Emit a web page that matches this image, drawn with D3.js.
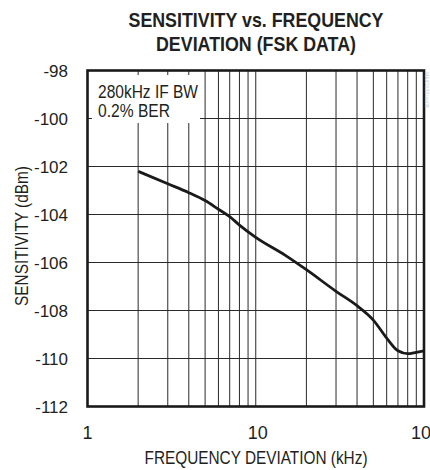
<!DOCTYPE html>
<html><head><meta charset="utf-8">
<script src="https://cdn.jsdelivr.net/npm/d3@7"></script>
<style>
html,body{margin:0;padding:0;background:#fff;}
svg{display:block;}
text{font-family:"Liberation Sans Narrow","Arial Narrow","Liberation Sans",Arial,sans-serif;fill:#231f20;}
</style></head><body>
<svg id="c" width="430" height="470"></svg>
<script>
// ---- data ----
const freqKHz = [2, 3, 4, 5, 6, 7, 8, 10, 15, 20, 30, 40, 50, 60, 70, 80, 90, 100];
const sensitivity = [-102.2, -102.72, -103.09, -103.42, -103.78, -104.09, -104.44, -104.95, -105.7, -106.3, -107.2, -107.8, -108.4, -109.15, -109.68, -109.8, -109.74, -109.68];
const yTicks = [-98, -100, -102, -104, -106, -108, -110, -112];
const xTickLabels = [1, 10, 100];
const xGrid = [2,3,4,5,6,7,8,9,10,20,30,40,50,60,70,80,90];
const titleLines = ["SENSITIVITY vs. FREQUENCY", "DEVIATION (FSK DATA)"];
const legendLines = ["280kHz IF BW", "0.2% BER"];
const xLabel = "FREQUENCY DEVIATION (kHz)";
const yLabel = "SENSITIVITY (dBm)";

const svg = d3.select("#c");
const L = 87.5, R = 424, T = 70.5, B = 406.5;
const x = d3.scaleLog().domain([1, 100]).range([L, R]);
const y = d3.scaleLinear().domain([-112, -98]).range([B, T]);

// grid
const g = svg.append("g");
g.selectAll("line.v").data(xGrid).enter().append("line")
  .attr("x1", d => x(d)).attr("x2", d => x(d)).attr("y1", T).attr("y2", B)
  .attr("stroke", "#2a2a2a").attr("stroke-width", 1);
g.selectAll("line.h").data(yTicks.filter(d => d > -112 && d < -98)).enter().append("line")
  .attr("x1", L).attr("x2", R).attr("y1", d => y(d)).attr("y2", d => y(d))
  .attr("stroke", "#2a2a2a").attr("stroke-width", 1);

// legend box covering grid
svg.append("rect").attr("x", 92).attr("y", 75).attr("width", 108).attr("height", 48).attr("fill", "#fff");
svg.selectAll("text.leg").data(legendLines).enter().append("text")
  .attr("x", 98).attr("y", (d, i) => 97.5 + i * 19.5)
  .attr("font-size", 18.5).text(d => d)
  .attr("textLength", (d, i) => i === 0 ? 100 : 72).attr("lengthAdjust", "spacingAndGlyphs");

// curve
const line = d3.line().x(d => x(d[0])).y(d => y(d[1])).curve(d3.curveMonotoneX);
svg.append("path").datum(freqKHz.map((f, i) => [f, sensitivity[i]]))
  .attr("d", line).attr("fill", "none").attr("stroke", "#1a1a1a").attr("stroke-width", 2.8)
  .attr("stroke-linejoin", "round");

// frame
svg.append("rect").attr("x", L).attr("y", T).attr("width", R - L).attr("height", B - T)
  .attr("fill", "none").attr("stroke", "#1a1a1a").attr("stroke-width", 2.6);

// y tick labels
svg.selectAll("text.yt").data(yTicks).enter().append("text")
  .attr("x", 68).attr("y", d => y(d) + 6.5).attr("text-anchor", "end")
  .attr("font-size", 17).text(d => d);

// x tick labels
svg.selectAll("text.xt").data(xTickLabels).enter().append("text")
  .attr("x", d => x(d) + (d === 1 ? 0 : 2)).attr("y", 439).attr("text-anchor", "middle")
  .attr("font-size", 18).text(d => d);

// axis labels
svg.append("text").attr("x", 256).attr("y", 463.5).attr("text-anchor", "middle")
  .attr("font-size", 18).text(xLabel).attr("textLength", 223).attr("lengthAdjust", "spacingAndGlyphs");
svg.append("text").attr("transform", "translate(28,236) rotate(-90)").attr("text-anchor", "middle")
  .attr("font-size", 17.5).text(yLabel).attr("textLength", 140).attr("lengthAdjust", "spacingAndGlyphs");

// title
svg.selectAll("text.title").data(titleLines).enter().append("text")
  .attr("x", 256).attr("y", (d, i) => 27 + i * 23.5).attr("text-anchor", "middle")
  .attr("font-size", 21).attr("font-weight", "bold").text(d => d)
  .attr("textLength", (d, i) => i === 0 ? 255 : 200).attr("lengthAdjust", "spacingAndGlyphs");

// faint figure code at right edge
svg.append("text").attr("transform", "translate(425,72) rotate(90)")
  .attr("font-size", 5).style("fill", "#c8c8c8").text("MAX7033 toc08");
</script></body></html>
